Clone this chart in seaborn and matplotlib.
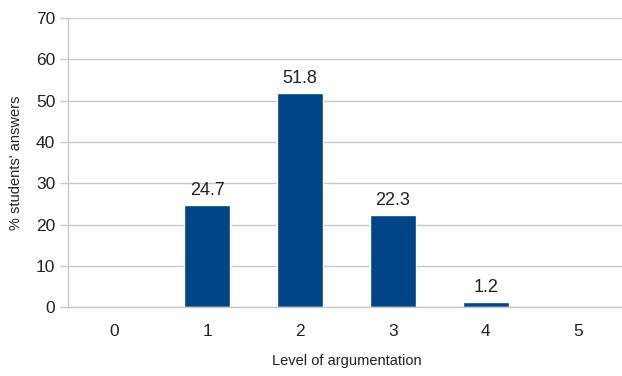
import numpy as np
import pandas as pd
import matplotlib
matplotlib.use("Agg")
import matplotlib.pyplot as plt
import seaborn as sns

# data
levels = ["0", "1", "2", "3", "4", "5"]
percent = [0, 24.7, 51.8, 22.3, 1.2, 0]
labels = ["", "24.7", "51.8", "22.3", "1.2", ""]
y_ticks = [0, 10, 20, 30, 40, 50, 60, 70]

sns.set_style("white")
plt.rcParams['font.family'] = ['Liberation Sans', 'DejaVu Sans']

df = pd.DataFrame({"level": levels, "percent": percent})

fig = plt.figure(figsize=(6.22, 3.76), dpi=100)
ax = fig.add_axes([0.109, 0.183, 0.896, 0.769])

sns.barplot(data=df, x="level", y="percent", order=levels, color="#004586",
            width=0.5, saturation=1, ax=ax)

# value labels on bars
for patch, txt in zip(ax.patches, labels):
    if txt:
        ax.text(patch.get_x() + patch.get_width() / 2, patch.get_height() + 1.5, txt,
                ha="center", va="bottom", fontsize=13, color="#222222")

ax.set_xlim(-0.5, len(levels) - 0.5)
ax.set_ylim(0, 70)
ax.set_yticks(y_ticks)
ax.yaxis.grid(True, color="#c8c8c8", linewidth=1)
ax.set_axisbelow(True)

# category separators as minor ticks
ax.set_xticks(np.arange(-0.5, len(levels), 1.0), minor=True)
ax.tick_params(axis="x", which="major", length=0, pad=12, labelsize=12.5, colors="#222222")
ax.tick_params(axis="x", which="minor", length=7, width=1, color="#c8c8c8", direction="out")
ax.tick_params(axis="y", length=6, width=1, color="#c8c8c8", labelsize=12.5,
               labelcolor="#222222", left=True, pad=3)

for side in ["top", "right"]:
    ax.spines[side].set_visible(False)
for side in ["left", "bottom"]:
    ax.spines[side].set_color("#c8c8c8")
    ax.spines[side].set_linewidth(1)

ax.set_xlabel("Level of argumentation", fontsize=10.5, labelpad=11, color="#222222")
ax.set_ylabel("% students' answers", fontsize=10.5, labelpad=9, color="#222222")

fig.savefig("out.png", dpi=100)
